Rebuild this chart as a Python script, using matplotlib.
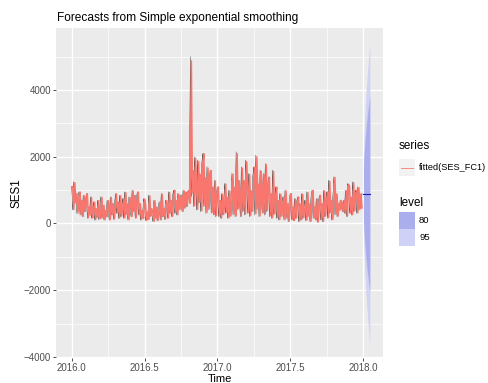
import numpy as np
import matplotlib
matplotlib.use('Agg')
import matplotlib.pyplot as plt
from matplotlib.patches import Rectangle
from matplotlib.lines import Line2D

plt.rcParams['font.family'] = ['Liberation Sans', 'DejaVu Sans']

# ------------------------------------------------------------
# DATA (~every 2.6 days, 2016.0-2018.0)
# ------------------------------------------------------------
ses1 = [
    1100, 400, 1250, 600, 900, 300, 800,
    950, 250, 700, 200, 850, 350, 600,
    900, 150, 500, 250, 800, 150, 400,
    650, 100, 450, 180, 700, 120, 350,
    800, 150, 550, 100, 400, 200, 700,
    450, 100, 800, 250, 600, 120, 500,
    900, 300, 650, 150, 850, 200, 500,
    750, 150, 950, 250, 600, 100, 800,
    500, 200, 1000, 350, 850, 150, 700,
    950, 250, 600, 100, 400, 150, 750,
    550, 80, 350, 120, 850, 200, 450,
    300, 60, 700, 150, 500, 80, 400,
    650, 100, 900, 200, 450, 120, 700,
    550, 150, 950, 300, 700, 200, 850,
    1000, 300, 700, 250, 900, 400, 800,
    850, 350, 1000, 450, 950, 500, 900,
    1000, 600, 5000, 800, 1600, 500, 2000,
    1200, 400, 1900, 600, 1500, 350, 1800,
    2100, 500, 1400, 300, 1700, 400, 1200,
    1600, 300, 1100, 250, 1300, 200, 900,
    1100, 200, 700, 150, 900, 250, 600,
    1200, 300, 800, 150, 1000, 200, 700,
    1500, 250, 1100, 200, 2150, 400, 1300,
    900, 200, 1700, 350, 1300, 250, 1900,
    1200, 300, 1500, 200, 1000, 350, 1400,
    1700, 250, 2050, 400, 1200, 200, 1600,
    1100, 300, 1500, 250, 1800, 350, 1000,
    1400, 200, 900, 150, 1600, 250, 800,
    1100, 150, 700, 100, 900, 200, 600,
    800, 100, 1000, 150, 600, 50, 700,
    900, 100, 500, 80, 750, 150, 600,
    800, 50, 600, 100, 900, 150, 450,
    700, 80, 950, 200, 600, 50, 800,
    1000, 150, 500, 100, 750, 30, 600,
    850, 100, 600, 50, 1000, 200, 700,
    950, 150, 1300, 300, 700, 100, 800,
    1400, 250, 900, 200, 600, 400, 700,
    600, 350, 700, 300, 1000, 200, 1200,
    1100, 300, 800, 250, 1250, 350, 900,
    1000, 300, 1100, 400, 900, 450, 900,
]
start_year = 2016.0
n_years = 2.0

# forecast (days ahead), point forecast and prediction intervals
fc_days = list(range(1, 18))
fc_mean = 890
hi80 = [1600, 1900, 2120, 2310, 2480, 2630, 2770, 2900, 3020, 3140, 3250, 3350, 3450, 3550, 3640, 3740, 3830]
lo80 = [180, -120, -340, -530, -700, -850, -990, -1120, -1240, -1360, -1470, -1570, -1670, -1770, -1860, -1960, -2050]
hi95 = [1980, 2430, 2780, 3070, 3330, 3560, 3780, 3980, 4160, 4340, 4510, 4670, 4820, 4970, 5110, 5250, 5390]
lo95 = [-200, -650, -1000, -1290, -1550, -1780, -2000, -2200, -2380, -2560, -2730, -2890, -3040, -3190, -3330, -3470, -3610]

y = np.array(ses1, dtype=float)
t = start_year + np.arange(len(y)) * n_years / len(y)

# SES fitted values
alpha = 0.97
fitted = np.empty_like(y)
fitted[0] = y[0]
for i in range(1, len(y)):
    fitted[i] = alpha * y[i - 1] + (1 - alpha) * fitted[i - 1]

fc_t = start_year + n_years + np.array(fc_days) / 365.0

# ------------------------------------------------------------
# FIGURE
# ------------------------------------------------------------
W, H = 488, 383
fig = plt.figure(figsize=(W / 100, H / 100), dpi=100)
ax = fig.add_axes([56 / W, 1 - 358 / H, (383 - 56) / W, (358 - 28) / H])

def fx(px):
    return px / W

def fy(py):
    return 1 - py / H

ax.set_facecolor('#EBEBEB')
for s in ax.spines.values():
    s.set_visible(False)

ax.set_xlim(2015.892, 2018.137)
ax.set_ylim(-4030, 5857)
ax.set_xticks([2016.0, 2016.5, 2017.0, 2017.5, 2018.0])
ax.set_xticklabels(['2016.0', '2016.5', '2017.0', '2017.5', '2018.0'])
ax.set_yticks([-4000, -2000, 0, 2000, 4000])
ax.set_xticks([2016.25, 2016.75, 2017.25, 2017.75], minor=True)
ax.set_yticks([-3000, -1000, 1000, 3000, 5000], minor=True)
ax.grid(True, which='major', color='white', lw=1.0)
ax.grid(True, which='minor', color='white', lw=0.5)
ax.set_axisbelow(True)
ax.tick_params(which='major', labelsize=7, labelcolor='#4D4D4D', color='#333333',
               length=2.2, width=0.6, pad=1.5)
ax.tick_params(axis='x', pad=1.2)
ax.tick_params(which='minor', length=0)

ax.fill_between(fc_t, lo95, hi95, color='#D0D2F6', lw=0)
ax.fill_between(fc_t, lo80, hi80, color='#ABAEEC', lw=0)
ax.plot(t, y, color='black', lw=0.25)
ax.plot(t, fitted, color='#F8766D', lw=1.1)
ax.plot(fc_t, [fc_mean] * len(fc_t), color='#1F1FB4', lw=0.8)

fig.text(fx(57), fy(18), 'Forecasts from Simple exponential smoothing',
         fontsize=8.6, ha='left', va='center')
fig.text(fx(219.5), fy(383.5), 'Time', fontsize=8, ha='center', va='bottom')
fig.text(fx(16), fy(193), 'SES1', fontsize=8.4, rotation=90, ha='center', va='center')

# legends
fig.text(fx(399), fy(146), 'series', fontsize=8.4, ha='left', va='center')
fig.add_artist(Rectangle((fx(399), fy(176)), fx(16), 17 / H, facecolor='#F2F2F2',
                         edgecolor='none', transform=fig.transFigure))
fig.add_artist(Line2D([fx(401), fx(413)], [fy(167.5), fy(167.5)], color='#F8766D',
                      lw=0.6, transform=fig.transFigure))
fig.text(fx(419), fy(167.5), 'fitted(SES_FC1)', fontsize=6.6, ha='left', va='center')

fig.text(fx(399), fy(203), 'level', fontsize=8.4, ha='left', va='center')
for yy, col, lab in [(212, '#ABAEEC', '80'), (229, '#CFD1F6', '95')]:
    fig.add_artist(Rectangle((fx(399), fy(yy + 16.5)), fx(16), 16.5 / H, facecolor=col,
                             edgecolor='none', transform=fig.transFigure))
    fig.text(fx(419), fy(yy + 8.5), lab, fontsize=6.8, ha='left', va='center')

fig.savefig('out.png', dpi=100)
